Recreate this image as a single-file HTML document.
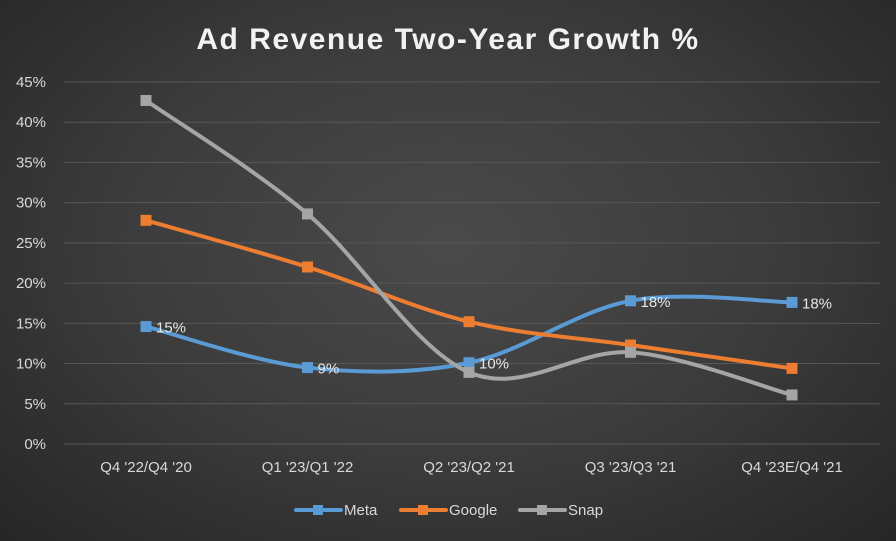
<!DOCTYPE html>
<html><head><meta charset="utf-8"><style>
html,body{margin:0;padding:0;width:896px;height:541px;overflow:hidden}
body{background:radial-gradient(ellipse at 50% 45%,#4a4a4a 0%,#3c3c3c 50%,#262626 100%);font-family:"Liberation Sans",sans-serif}
</style></head><body>
<svg id="chart" width="896" height="541" xmlns="http://www.w3.org/2000/svg"></svg>
<script>
const categories=["Q4 '22/Q4 '20","Q1 '23/Q1 '22","Q2 '23/Q2 '21","Q3 '23/Q3 '21","Q4 '23E/Q4 '21"];
const metaValues=[14.6,9.5,10.1,17.8,17.6];
const googleValues=[27.8,22.0,15.2,12.3,9.4];
const snapValues=[42.7,28.6,8.9,11.4,6.1];
const metaLabels=["15%","9%","10%","18%","18%"];
const yTicks=[0,5,10,15,20,25,30,35,40,45];
const NS="http://www.w3.org/2000/svg";
const svg=document.getElementById('chart');
const x=i=>146+i*161.5;
const y=v=>444-v*8.045;
function mk(tag,attrs,parent){const e=document.createElementNS(NS,tag);for(const k in attrs)e.setAttribute(k,attrs[k]);(parent||svg).appendChild(e);return e;}
const t=mk('text',{x:448,y:49,'text-anchor':'middle','font-size':30,'font-weight':'bold',fill:'#f2f2f2','letter-spacing':'1.5'});
t.textContent='Ad Revenue Two-Year Growth %';


yTicks.forEach(v=>{
 const g=mk('line',{x1:64,x2:880,y1:y(v),y2:y(v),stroke:'#575757','stroke-width':1});
 
 
 const l=mk('text',{x:46,y:y(v)+5,'text-anchor':'end','font-size':15,fill:'#d9d9d9'});
 l.textContent=v+'%';
 
 
});
categories.forEach((c,i)=>{
 const l=mk('text',{x:x(i),y:472,'text-anchor':'middle','font-size':15,fill:'#d9d9d9'});
 l.textContent=c;
 
 
});
function smooth(vals){
 const p=vals.map((v,i)=>[x(i),y(v)]);
 let d='M'+p[0][0]+','+p[0][1];
 for(let i=0;i<p.length-1;i++){
  const p0=p[i-1]||p[i],p1=p[i],p2=p[i+1],p3=p[i+2]||p2;
  const c1=[p1[0]+(p2[0]-p0[0])/6,p1[1]+(p2[1]-p0[1])/6];
  const c2=[p2[0]-(p3[0]-p1[0])/6,p2[1]-(p3[1]-p1[1])/6];
  d+=` C${c1[0]},${c1[1]} ${c2[0]},${c2[1]} ${p2[0]},${p2[1]}`;
 }
 return d;
}
const series=[["meta",metaValues,"#5b9bd5"],["google",googleValues,"#ed7d31"],["snap",snapValues,"#a5a5a5"]];
series.forEach(([n,vals,col])=>{
 const p=mk('path',{d:smooth(vals),fill:'none',stroke:col,'stroke-width':4,'stroke-linecap':'round'});
 
 
 vals.forEach((v,i)=>{
  const r=mk('rect',{x:x(i)-5,y:y(v)-5,width:10,height:10,fill:col,stroke:col,'stroke-width':1});
  
  
 });
});
metaValues.forEach((v,i)=>{
 const l=mk('text',{x:x(i)+10,y:y(v)+6,'font-size':15,fill:'#e6e6e6'});
 l.textContent=metaLabels[i];
 
 
});
[["Meta","#5b9bd5",296],["Google","#ed7d31",401],["Snap","#a5a5a5",520]].forEach(([n,col,lx])=>{
 const g=mk('g',{});
 
 
 mk('line',{x1:lx,x2:lx+45,y1:510,y2:510,stroke:col,'stroke-width':4,'stroke-linecap':'round'},g);
 mk('rect',{x:lx+17,y:505,width:10,height:10,fill:col},g);
 const tx=mk('text',{x:lx+48,y:515,'font-size':15,fill:'#d9d9d9'},g);
 tx.textContent=n;
});
</script>
</body></html>
